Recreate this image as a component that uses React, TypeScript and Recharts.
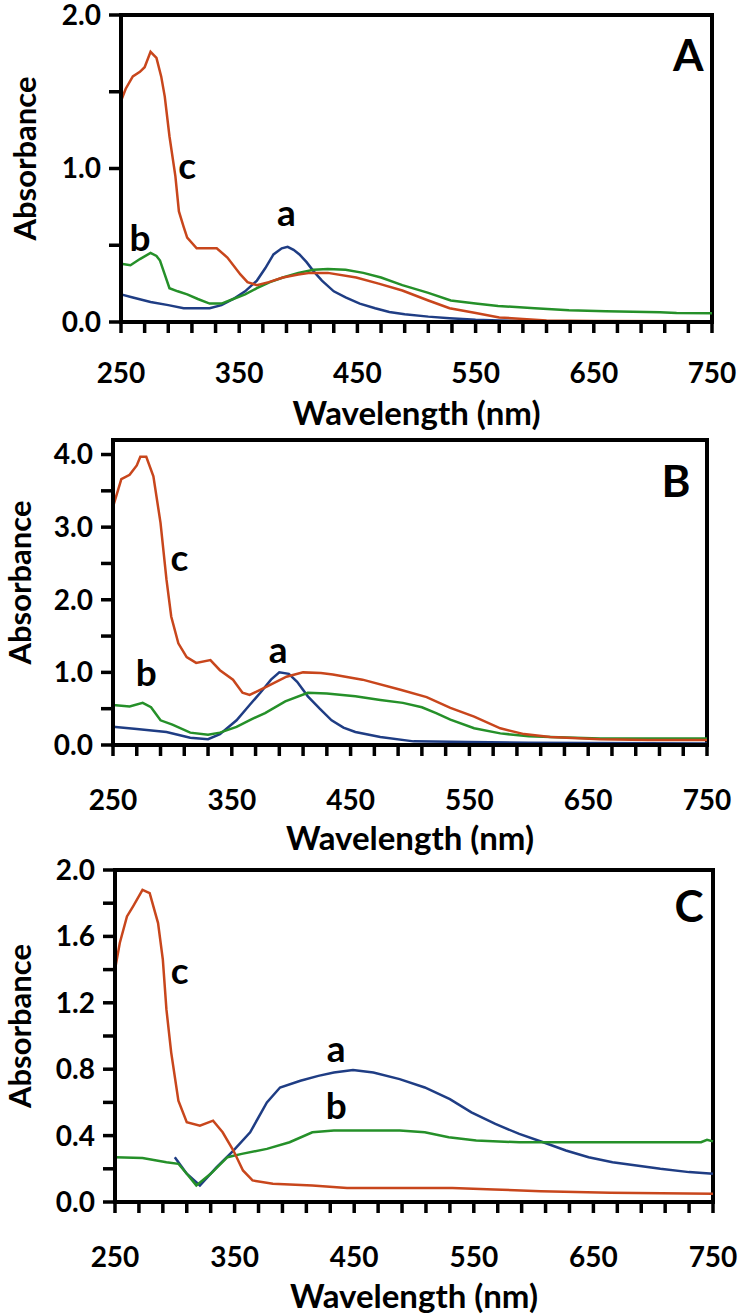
import { LineChart, Line, XAxis, YAxis, ReferenceArea, ReferenceDot } from "recharts";

const FONT = "Lato, 'Open Sans', sans-serif";
const BLUE = "#1f3d84";
const GREEN = "#259029";
const RED = "#c8461c";

const xTicks = [250, 270, 290, 310, 330, 350, 370, 390, 410, 430, 450, 470, 490, 510, 530, 550, 570, 590, 610, 630, 650, 670, 690, 710, 730, 750];
const xLabeled = [250, 350, 450, 550, 650, 750];

// panel A
const yTicksA = [0, 0.5, 1, 1.5, 2];
const yLabeledA = [0, 1, 2];
const aWlA = [250, 260, 275, 290, 303, 325, 335, 345, 355, 365, 372, 379, 386, 391, 396, 401, 407, 413, 420, 430, 440, 452, 465, 477, 490, 510, 528, 550, 570, 600, 650, 750];
const aAbsA = [0.18, 0.16, 0.13, 0.11, 0.09, 0.09, 0.11, 0.15, 0.2, 0.27, 0.35, 0.44, 0.48, 0.49, 0.47, 0.44, 0.39, 0.33, 0.27, 0.2, 0.16, 0.12, 0.09, 0.065, 0.05, 0.035, 0.025, 0.015, 0.01, 0.005, 0.003, 0.003];
const bWlA = [250, 258, 266, 275, 280, 283, 287, 291, 298, 306, 315, 325, 335, 345, 355, 365, 376, 387, 400, 413, 425, 440, 455, 470, 488, 510, 529, 550, 569, 600, 629, 660, 706, 720, 750];
const bAbsA = [0.38, 0.37, 0.41, 0.45, 0.43, 0.4, 0.31, 0.22, 0.2, 0.18, 0.15, 0.12, 0.12, 0.15, 0.18, 0.22, 0.26, 0.29, 0.32, 0.34, 0.345, 0.34, 0.32, 0.29, 0.24, 0.19, 0.14, 0.12, 0.105, 0.09, 0.077, 0.07, 0.064, 0.058, 0.057];
const cWlA = [250, 254, 260, 266, 270, 275, 280, 284, 287, 291, 296, 299, 303, 306, 314, 331, 340, 351, 357, 365, 375, 387, 400, 410, 425, 449, 468, 488, 510, 528, 549, 570, 590, 610, 650, 750];
const cAbsA = [1.44, 1.52, 1.6, 1.63, 1.66, 1.76, 1.72, 1.6, 1.47, 1.21, 0.95, 0.72, 0.62, 0.55, 0.48, 0.48, 0.42, 0.31, 0.26, 0.24, 0.26, 0.29, 0.31, 0.32, 0.32, 0.29, 0.25, 0.205, 0.14, 0.09, 0.06, 0.03, 0.02, 0.01, 0.006, 0.005];

// panel B
const yTicksB = [0, 0.5, 1, 1.5, 2, 2.5, 3, 3.5, 4];
const yLabeledB = [0, 1, 2, 3, 4];
const aWlB = [250, 270, 295, 315, 330, 340, 354, 365, 374, 383, 390, 398, 405, 414, 424, 434, 444, 454, 475, 503, 550, 600, 750];
const aAbsB = [0.25, 0.22, 0.18, 0.1, 0.08, 0.15, 0.34, 0.55, 0.72, 0.9, 1.0, 0.98, 0.87, 0.67, 0.5, 0.34, 0.24, 0.18, 0.11, 0.05, 0.04, 0.03, 0.02];
const bWlB = [250, 264, 275, 282, 290, 300, 315, 330, 340, 354, 366, 378, 395, 414, 430, 454, 475, 494, 510, 522, 534, 554, 576, 600, 618, 660, 750];
const bAbsB = [0.55, 0.53, 0.58, 0.52, 0.34, 0.28, 0.17, 0.14, 0.17, 0.25, 0.35, 0.44, 0.6, 0.72, 0.71, 0.67, 0.62, 0.58, 0.52, 0.44, 0.35, 0.23, 0.16, 0.12, 0.11, 0.09, 0.09];
const cWlB = [250, 257, 264, 270, 273, 278, 284, 290, 295, 299, 305, 312, 320, 332, 340, 351, 359, 365, 379, 396, 410, 425, 435, 460, 492, 514, 534, 554, 576, 596, 618, 660, 700, 750];
const cAbsB = [3.28, 3.66, 3.72, 3.85, 3.97, 3.97, 3.7, 3.06, 2.28, 1.77, 1.4, 1.21, 1.13, 1.17, 1.03, 0.9, 0.72, 0.69, 0.8, 0.94, 1.0, 0.99, 0.97, 0.9, 0.76, 0.66, 0.51, 0.39, 0.23, 0.15, 0.11, 0.08, 0.07, 0.07];

// panel C
const yTicksC = [0, 0.2, 0.4, 0.6, 0.8, 1, 1.2, 1.4, 1.6, 1.8, 2];
const yLabeledC = [0, 0.4, 0.8, 1.2, 1.6, 2];
const aWlC = [300, 305, 310, 321, 335, 349, 363, 377, 388, 405, 420, 433, 449, 466, 488, 509, 530, 548, 568, 588, 608, 627, 646, 666, 686, 706, 730, 750];
const aAbsC = [0.27, 0.22, 0.17, 0.1, 0.21, 0.31, 0.42, 0.6, 0.69, 0.73, 0.76, 0.78, 0.795, 0.78, 0.74, 0.69, 0.62, 0.54, 0.47, 0.41, 0.36, 0.31, 0.27, 0.24, 0.22, 0.2, 0.18, 0.17];
const bWlC = [250, 273, 293, 303, 310, 318, 330, 344, 356, 377, 396, 415, 433, 488, 509, 529, 552, 588, 700, 740, 745, 750];
const bAbsC = [0.27, 0.265, 0.24, 0.23, 0.17, 0.1, 0.17, 0.27, 0.29, 0.32, 0.36, 0.42, 0.43, 0.43, 0.42, 0.39, 0.37, 0.36, 0.36, 0.36, 0.375, 0.365];
const cWlC = [250, 254, 260, 265, 273, 279, 286, 290, 293, 297, 303, 310, 321, 332, 340, 349, 357, 365, 382, 415, 444, 532, 567, 606, 664, 750];
const cAbsC = [1.4, 1.56, 1.72, 1.78, 1.88, 1.86, 1.68, 1.46, 1.16, 0.9, 0.61, 0.48, 0.46, 0.49, 0.42, 0.31, 0.19, 0.13, 0.11, 0.1, 0.085, 0.085, 0.075, 0.065, 0.055, 0.05];

const zip = (wl: number[], ab: number[]) => wl.map((w, i) => ({ wl: w, abs: ab[i] }));

type Note = { x: number; y: number; text: string; size: number };

interface PanelProps {
  top: number;
  height: number;
  marginTop: number;
  yWidth: number;
  rightMargin: number;
  xHeight: number;
  yMax: number;
  yTicks: number[];
  yLabeled: number[];
  series: { wl: number[]; abs: number[]; color: string }[];
  notes: Note[];
  titleX: number;
  titleDy: number;
  tickGap: number;
}

function Panel(p: PanelProps) {
  return (
    <div style={{ position: "absolute", top: p.top, left: 0 }}>
      <LineChart width={740} height={p.height} margin={{ top: p.marginTop, right: p.rightMargin, bottom: 0, left: 0 }}>
        <XAxis
          type="number"
          dataKey="wl"
          domain={[250, 750]}
          ticks={xTicks}
          interval={0}
          height={p.xHeight}
          stroke="#000"
          strokeWidth={3.5}
          axisLine={{ stroke: "#000", strokeWidth: 4 }}
          tickLine={{ stroke: "#000", strokeWidth: 3.5 }}
          tickSize={11}
          tickMargin={p.tickGap}
          tick={{ fill: "#000", fontSize: 28, fontWeight: 700, fontFamily: FONT }}
          tickFormatter={(v: number) => (xLabeled.includes(v) ? String(v) : "")}
          label={{
            content: (lp: any) => {
              const vb = lp.viewBox;
              return (
                <text x={vb.x + vb.width / 2} y={vb.y + p.titleDy} textAnchor="middle" fontSize={33} fontWeight={700} fontFamily={FONT} fill="#000">
                  Wavelength (nm)
                </text>
              );
            },
          }}
        />
        <YAxis
          type="number"
          domain={[0, p.yMax]}
          ticks={p.yTicks}
          interval={0}
          width={p.yWidth}
          stroke="#000"
          strokeWidth={3.5}
          axisLine={{ stroke: "#000", strokeWidth: 4 }}
          tickLine={{ stroke: "#000", strokeWidth: 3.5 }}
          tickSize={12}
          tickMargin={8}
          tick={{ fill: "#000", fontSize: 28, fontWeight: 700, fontFamily: FONT }}
          tickFormatter={(v: number) => (p.yLabeled.some((l) => Math.abs(l - v) < 1e-6) ? v.toFixed(1) : "")}
          label={{
            content: (lp: any) => {
              const vb = lp.viewBox;
              const cy = vb.y + vb.height / 2 - 10;
              return (
                <text x={p.titleX} y={cy} transform={`rotate(-90 ${p.titleX} ${cy})`} textAnchor="middle" dominantBaseline="central" fontSize={31} fontWeight={700} fontFamily={FONT} fill="#000">
                  Absorbance
                </text>
              );
            },
          }}
        />
        <ReferenceArea x1={250} x2={750} y1={0} y2={p.yMax} fill="none" stroke="#000" strokeWidth={4} ifOverflow="visible" />
        {p.series.map((s, i) => (
          <Line
            key={i}
            data={zip(s.wl, s.abs)}
            dataKey="abs"
            type="linear"
            stroke={s.color}
            strokeWidth={2.5}
            dot={false}
            activeDot={false}
            isAnimationActive={false}
          />
        ))}
        {p.notes.map((n, i) => (
          <ReferenceDot
            key={"n" + i}
            x={n.x}
            y={n.y}
            r={0}
            fill="none"
            stroke="none"
            ifOverflow="visible"
            label={{ value: n.text, position: "center", fill: "#000", fontSize: n.size, fontWeight: 700, fontFamily: FONT }}
          />
        ))}
      </LineChart>
    </div>
  );
}

export default function App() {
  return (
    <div style={{ position: "absolute", top: 0, left: 0, width: 740, height: 1316, background: "#fff", overflow: "hidden" }}>
      <Panel
        top={0}
        height={440}
        marginTop={15}
        yWidth={121}
        rightMargin={28}
        xHeight={118}
        yMax={2}
        yTicks={yTicksA}
        yLabeled={yLabeledA}
        series={[
          { wl: aWlA, abs: aAbsA, color: BLUE },
          { wl: bWlA, abs: bAbsA, color: GREEN },
          { wl: cWlA, abs: cAbsA, color: RED },
        ]}
        notes={[
          { x: 306, y: 1.02, text: "c", size: 37 },
          { x: 266, y: 0.55, text: "b", size: 37 },
          { x: 390, y: 0.71, text: "a", size: 37 },
          { x: 730, y: 1.74, text: "A", size: 44 },
        ]}
        titleX={24}
        titleDy={103}
        tickGap={30}
      />
      <Panel
        top={420}
        height={450}
        marginTop={20}
        yWidth={113}
        rightMargin={33}
        xHeight={125}
        yMax={4.2}
        yTicks={yTicksB}
        yLabeled={yLabeledB}
        series={[
          { wl: aWlB, abs: aAbsB, color: BLUE },
          { wl: bWlB, abs: bAbsB, color: GREEN },
          { wl: cWlB, abs: cAbsB, color: RED },
        ]}
        notes={[
          { x: 306, y: 2.58, text: "c", size: 37 },
          { x: 278, y: 0.99, text: "b", size: 37 },
          { x: 389, y: 1.31, text: "a", size: 37 },
          { x: 724, y: 3.63, text: "B", size: 44 },
        ]}
        titleX={19}
        titleDy={105}
        tickGap={34}
      />
      <Panel
        top={850}
        height={466}
        marginTop={20}
        yWidth={115}
        rightMargin={27}
        xHeight={114}
        yMax={2}
        yTicks={yTicksC}
        yLabeled={yLabeledC}
        series={[
          { wl: aWlC, abs: aAbsC, color: BLUE },
          { wl: bWlC, abs: bAbsC, color: GREEN },
          { wl: cWlC, abs: cAbsC, color: RED },
        ]}
        notes={[
          { x: 304, y: 1.39, text: "c", size: 37 },
          { x: 435, y: 0.92, text: "a", size: 37 },
          { x: 435, y: 0.58, text: "b", size: 37 },
          { x: 730, y: 1.78, text: "C", size: 44 },
        ]}
        titleX={19}
        titleDy={106}
        tickGap={34}
      />
    </div>
  );
}
